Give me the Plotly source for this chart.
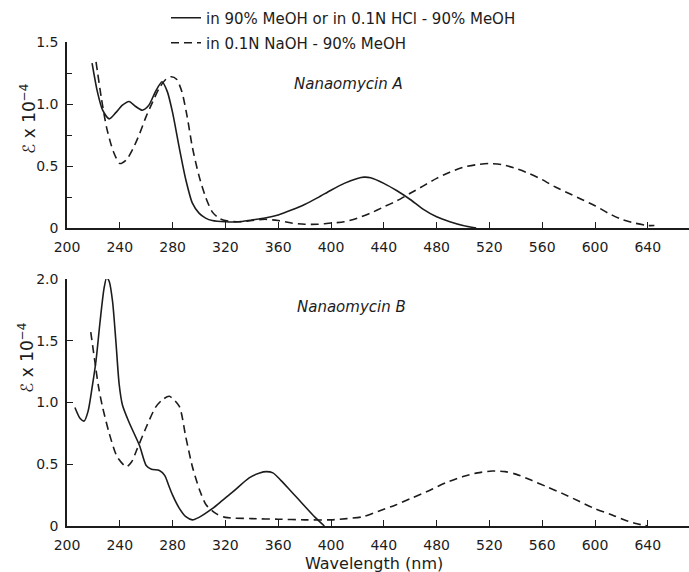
import plotly.graph_objects as go

# ---------------- data ----------------
# Nanaomycin A, in 90% MeOH or 0.1N HCl - 90% MeOH (solid)
a_neu_wl = [219, 223, 227, 232, 237, 242, 247, 252, 257, 262, 267, 272, 276, 280, 285, 290, 295, 300,
            305, 310, 320, 330, 340, 350, 360, 370, 380, 390, 400, 410, 420, 425, 430, 440, 450, 460,
            470, 480, 490, 500, 510]
a_neu_eps = [1.33, 1.10, 0.95, 0.88, 0.93, 0.99, 1.02, 0.98, 0.95, 0.99, 1.10, 1.18, 1.10, 0.93, 0.65,
             0.39, 0.20, 0.12, 0.08, 0.06, 0.05, 0.05, 0.065, 0.08, 0.105, 0.145, 0.19, 0.245, 0.305,
             0.36, 0.40, 0.41, 0.405, 0.36, 0.30, 0.23, 0.15, 0.09, 0.05, 0.02, 0.0]

# Nanaomycin A, in 0.1N NaOH - 90% MeOH (dashed)
a_alk_wl = [222, 226, 230, 235, 240, 245, 250, 255, 260, 265, 270, 275, 279, 283, 287, 291, 295, 300,
            305, 310, 315, 320, 330, 340, 350, 360, 370, 380, 390, 400, 410, 420, 430, 440, 450, 460,
            470, 480, 490, 500, 510, 520, 530, 540, 550, 560, 570, 580, 590, 600, 610, 620, 630, 640, 645]
a_alk_eps = [1.34, 1.05, 0.81, 0.62, 0.52, 0.55, 0.64, 0.76, 0.90, 1.02, 1.13, 1.20, 1.22, 1.20, 1.10,
             0.90, 0.65, 0.42, 0.25, 0.13, 0.08, 0.06, 0.05, 0.06, 0.07, 0.06, 0.04, 0.03, 0.03, 0.04,
             0.05, 0.08, 0.12, 0.17, 0.22, 0.28, 0.34, 0.40, 0.45, 0.49, 0.51, 0.52, 0.51, 0.48, 0.44,
             0.39, 0.33, 0.28, 0.23, 0.18, 0.12, 0.07, 0.04, 0.02, 0.02]

# Nanaomycin B, neutral / acid (solid)
b_neu_wl = [206, 210, 213, 216, 219, 222, 225, 228, 230, 232, 234.5, 237, 239.5, 242, 247, 255, 260,
            264, 270, 274, 277, 280, 285, 290, 295, 300, 310, 318, 326, 338, 346, 351, 356, 362, 369,
            375, 381, 388, 395]
b_neu_eps = [0.96, 0.87, 0.85, 0.93, 1.12, 1.34, 1.65, 1.92, 2.01, 1.98, 1.82, 1.50, 1.15, 0.98, 0.84,
             0.65, 0.49, 0.46, 0.45, 0.41, 0.33, 0.25, 0.145, 0.075, 0.05, 0.07, 0.14, 0.21, 0.28,
             0.39, 0.43, 0.44, 0.43, 0.37, 0.29, 0.22, 0.15, 0.07, 0.0]

# Nanaomycin B, alkaline (dashed)
b_alk_wl = [218, 221, 224, 227, 232, 238, 245, 249, 253, 260, 267, 272, 277.5, 285, 290, 295, 300.5,
            305.5, 313, 320, 340, 360, 380, 400, 412, 424, 436, 449, 462, 475, 487, 500, 511, 522, 532,
            540, 552, 563, 576, 588, 600, 613, 622, 631, 640]
b_alk_eps = [1.57, 1.34, 1.12, 0.96, 0.75, 0.56, 0.48, 0.52, 0.62, 0.80, 0.96, 1.02, 1.05, 0.97, 0.72,
             0.48, 0.29, 0.17, 0.10, 0.07, 0.06, 0.055, 0.05, 0.05, 0.06, 0.075, 0.12, 0.17, 0.23,
             0.29, 0.35, 0.40, 0.43, 0.445, 0.44, 0.42, 0.37, 0.32, 0.26, 0.20, 0.14, 0.09, 0.05,
             0.02, 0.0]

x_ticks = [200, 240, 280, 320, 360, 400, 440, 480, 520, 560, 600, 640]
y_ticks_a = [0, 0.5, 1.0, 1.5]
y_text_a = ["0", "0.5", "1.0", "1.5"]
y_ticks_b = [0, 0.5, 1.0, 1.5, 2.0]
y_text_b = ["0", "0.5", "1.0", "1.5", "2.0"]

legend_solid = "in 90% MeOH or in 0.1N HCl - 90% MeOH"
legend_dash = "in 0.1N NaOH - 90% MeOH"

# ---------------- figure ----------------
INK = "#1c1c1c"
FONT = "DejaVu Sans"
W, H = 689, 572
ML, MR, MT, MB = 67, 0, 42, 46
PW, PH = W - ML - MR, H - MT - MB


def px_x(x):
    return (x - ML) / PW


def px_y(y):
    return (H - MB - y) / PH


solid = dict(color=INK, width=1.6, shape="spline", smoothing=0.7)
dashed = dict(color=INK, width=1.6, dash="8px,5px", shape="spline", smoothing=0.7)

fig = go.Figure()
fig.add_trace(go.Scatter(x=a_neu_wl, y=a_neu_eps, mode="lines", line=solid, name=legend_solid,
                         xaxis="x", yaxis="y", legend="legend"))
fig.add_trace(go.Scatter(x=a_alk_wl, y=a_alk_eps, mode="lines", line=dashed, name=legend_dash,
                         xaxis="x", yaxis="y", legend="legend2"))
fig.add_trace(go.Scatter(x=b_neu_wl, y=b_neu_eps, mode="lines", line=solid, showlegend=False,
                         xaxis="x2", yaxis="y2"))
fig.add_trace(go.Scatter(x=b_alk_wl, y=b_alk_eps, mode="lines", line=dashed, showlegend=False,
                         xaxis="x2", yaxis="y2"))

xr = [200, 200 + PW / 1.32]
common_x = dict(range=xr, tickvals=x_ticks, ticks="inside", ticklen=6, tickwidth=1.3, tickcolor=INK,
                showline=True, linecolor=INK, linewidth=1.5, showgrid=False, zeroline=False,
                tickfont=dict(family=FONT, size=14, color=INK), ticklabelstandoff=5)
common_y = dict(ticks="inside", ticklen=6, tickwidth=1.3, tickcolor=INK, showline=True, linecolor=INK,
                linewidth=1.5, showgrid=False, zeroline=False,
                tickfont=dict(family=FONT, size=14, color=INK), ticklabelstandoff=4)

top_lo = px_y(228)
bot_hi = px_y(279)

fig.update_layout(
    width=W, height=H,
    margin=dict(l=ML, r=MR, t=MT, b=MB),
    paper_bgcolor="white", plot_bgcolor="white",
    font=dict(family=FONT, color=INK),
    xaxis=dict(common_x, domain=[0, 1], anchor="y"),
    yaxis=dict(common_y, domain=[top_lo, 1], range=[0, 1.5], tickvals=y_ticks_a, ticktext=y_text_a,
               anchor="x", minor=dict(dtick=0.25, ticks="inside", ticklen=5, tickcolor=INK, tickwidth=1.2)),
    xaxis2=dict(common_x, domain=[0, 1], anchor="y2"),
    yaxis2=dict(common_y, domain=[0, bot_hi], range=[0, 2.0], tickvals=y_ticks_b, ticktext=y_text_b,
                anchor="x2"),
    legend=dict(x=px_x(166), y=px_y(18), xanchor="left", yanchor="middle", bgcolor="rgba(0,0,0,0)",
                font=dict(family=FONT, size=15, color=INK), borderwidth=0),
    legend2=dict(x=px_x(166), y=px_y(43), xanchor="left", yanchor="middle", bgcolor="rgba(0,0,0,0)",
                 font=dict(family=FONT, size=15, color=INK), borderwidth=0),
    showlegend=True,
)

ytitle = "\u2130 x 10<sup>\u22124</sup>"
fig.add_annotation(text=ytitle, xref="paper", yref="paper", x=px_x(28), y=px_y(119), textangle=-90,
                   showarrow=False, xanchor="center", yanchor="middle",
                   font=dict(family=FONT, size=17, color=INK))
fig.add_annotation(text=ytitle, xref="paper", yref="paper", x=px_x(26), y=px_y(358), textangle=-90,
                   showarrow=False, xanchor="center", yanchor="middle",
                   font=dict(family=FONT, size=17, color=INK))
fig.add_annotation(text="<i>Nanaomycin A</i>", xref="x", yref="y", x=413, y=1.16, showarrow=False,
                   font=dict(family=FONT, size=15, color=INK))
fig.add_annotation(text="<i>Nanaomycin B</i>", xref="x2", yref="y2", x=415.5, y=1.77, showarrow=False,
                   font=dict(family=FONT, size=15, color=INK))
fig.add_annotation(text="Wavelength (nm)", xref="paper", yref="paper", x=px_x(374), y=px_y(563),
                   showarrow=False, xanchor="center", yanchor="middle",
                   font=dict(family=FONT, size=16, color=INK))

fig.write_html("out.html", config={"displayModeBar": False},
               post_script="document.body.style.margin='0';document.body.style.overflow='hidden';")
